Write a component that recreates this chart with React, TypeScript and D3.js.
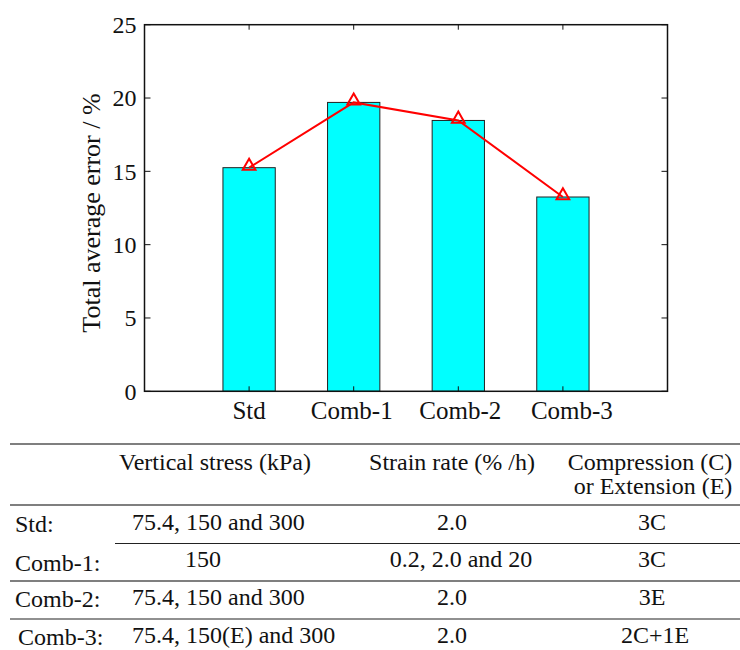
import React from "react";
import * as d3 from "d3";

const categories = ["Std", "Comb-1", "Comb-2", "Comb-3"];
const errorValues = [15.25, 19.7, 18.47, 13.25];
const yTicks = [0, 5, 10, 15, 20, 25];

const tableHeader1 = ["", "Vertical stress (kPa)", "Strain rate (% /h)", "Compression (C)"];
const tableHeader2 = ["", "", "", "or Extension (E)"];
const tableRowLabels = ["Std:", "Comb-1:", "Comb-2:", "Comb-3:"];
const verticalStress = ["75.4, 150 and 300", "150", "75.4, 150 and 300", "75.4, 150(E) and 300"];
const strainRate = ["2.0", "0.2, 2.0 and 20", "2.0", "2.0"];
const compExt = ["3C", "3C", "3E", "2C+1E"];

const FONT = "'Liberation Serif', 'Times New Roman', serif";

export default function App() {
  const W = 740, H = 650;
  const left = 144.5, right = 667.5, top = 24.7, bottom = 391.3;
  const x = d3.scaleLinear().domain([0, categories.length + 1]).range([left, right]);
  const y = d3.scaleLinear().domain([0, 25]).range([bottom, top]);
  const barW = x(0.5) - x(0);

  const line = d3.line<number>().x((_, i) => x(i + 1)).y((d) => y(d));
  const tri = d3.symbol().type(d3.symbolTriangle).size(70)();
  const labelDx = [0, -2, 2, 9];

  // table layout
  const rowLabelBase = [532, 571, 607, 645];
  const rowTextBase = [530, 567, 605, 643];
  const rowLabelX = [15, 15, 15, 18];
  const col1X = [132, 185, 132, 132];
  const col2Center = [452, 461, 452, 452];
  const col3Center = [652, 652, 652, 655];
  const hLines = [
    { y: 444, x1: 10, color: "#555", w: 1.5 },
    { y: 505, x1: 10, color: "#555", w: 1.5 },
    { y: 543.5, x1: 115, color: "#222", w: 1.2 },
    { y: 581, x1: 10, color: "#555", w: 1.5 },
    { y: 619, x1: 10, color: "#222", w: 1.2 },
  ];

  return (
    <svg width={W} height={H} style={{ position: "absolute", left: 0, top: 0, background: "#fff" }} fontFamily={FONT}>
      {/* bars */}
      {errorValues.map((v, i) => (
        <rect key={i} x={x(i + 1) - barW / 2} y={y(v)} width={barW} height={y(0) - y(v)}
          fill="#00FFFF" stroke="#222" strokeWidth={1} />
      ))}
      {/* line */}
      <path d={line(errorValues) || ""} fill="none" stroke="#FF0000" strokeWidth={2} />
      {errorValues.map((v, i) => (
        <path key={i} d={tri || ""} transform={`translate(${x(i + 1)},${y(v) - 1.5})`}
          fill="none" stroke="#FF0000" strokeWidth={2} />
      ))}
      {/* axes box */}
      <rect x={left} y={top} width={right - left} height={bottom - top} fill="none" stroke="#111" strokeWidth={1.5} />
      {yTicks.map((t) => (
        <g key={t}>
          <line x1={left} x2={left + 6} y1={y(t)} y2={y(t)} stroke="#111" strokeWidth={1} />
          <line x1={right} x2={right - 6} y1={y(t)} y2={y(t)} stroke="#111" strokeWidth={1} />
          <text x={left - 8} y={y(t)} dy="0.35em" textAnchor="end" fontSize={24} fill="#111">{t}</text>
        </g>
      ))}
      {categories.map((c, i) => (
        <g key={c}>
          <line x1={x(i + 1)} x2={x(i + 1)} y1={top} y2={top + 5} stroke="#111" strokeWidth={1} />
          <line x1={x(i + 1)} x2={x(i + 1)} y1={bottom} y2={bottom - 5} stroke="#111" strokeWidth={1} />
          <text x={x(i + 1) + labelDx[i]} y={419} textAnchor="middle" fontSize={25} fill="#111">{c}</text>
        </g>
      ))}
      <text transform={`translate(100,213) rotate(-90)`} textAnchor="middle" fontSize={26} fill="#111">
        Total average error / %
      </text>

      {/* table */}
      {hLines.map((l, i) => (
        <line key={i} x1={l.x1} x2={740} y1={l.y} y2={l.y} stroke={l.color} strokeWidth={l.w} />
      ))}
      <g fontSize={24} fill="#111">
        <text x={119} y={470}>{tableHeader1[1]}</text>
        <text x={452} y={470} textAnchor="middle">{tableHeader1[2]}</text>
        <text x={650} y={470} textAnchor="middle">{tableHeader1[3]}</text>
        <text x={653} y={494} textAnchor="middle">{tableHeader2[3]}</text>
        {tableRowLabels.map((r, i) => (
          <g key={r}>
            <text x={rowLabelX[i]} y={rowLabelBase[i]}>{r}</text>
            <text x={col1X[i]} y={rowTextBase[i]}>{verticalStress[i]}</text>
            <text x={col2Center[i]} y={rowTextBase[i]} textAnchor="middle">{strainRate[i]}</text>
            <text x={col3Center[i]} y={rowTextBase[i]} textAnchor="middle">{compExt[i]}</text>
          </g>
        ))}
      </g>
    </svg>
  );
}
